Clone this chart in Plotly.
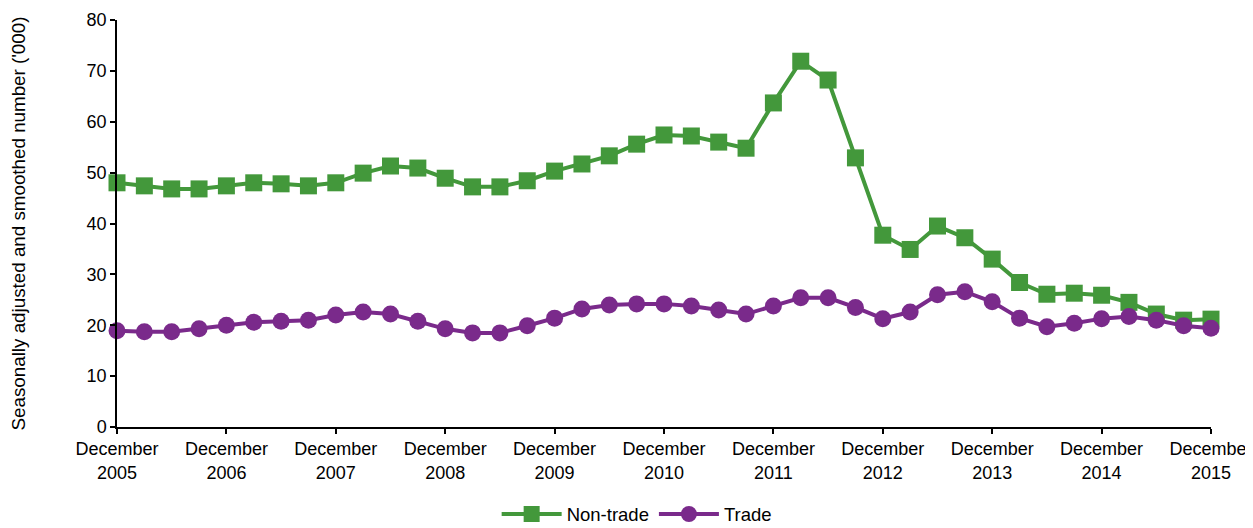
import plotly.graph_objects as go

quarters = list(range(41))
tick_positions = list(range(0, 41, 4))
tick_labels = [f"December<br>{y}" for y in range(2005, 2016)]

non_trade = [48.0, 47.4, 46.8, 46.8, 47.4, 48.0, 47.8, 47.4, 48.0, 49.9,
             51.3, 50.9, 48.9, 47.2, 47.2, 48.4, 50.3, 51.7, 53.3, 55.6,
             57.4, 57.2, 56.0, 54.8, 63.7, 71.9, 68.2, 52.9, 37.7, 34.9,
             39.5, 37.2, 33.0, 28.4, 26.1, 26.3, 25.9, 24.5, 22.2, 21.0, 21.2]

trade = [18.9, 18.7, 18.7, 19.3, 20.0, 20.6, 20.8, 21.0, 22.0, 22.6,
         22.2, 20.8, 19.3, 18.5, 18.5, 19.9, 21.4, 23.2, 24.0, 24.2,
         24.2, 23.8, 23.0, 22.2, 23.8, 25.4, 25.4, 23.5, 21.3, 22.6,
         26.0, 26.6, 24.6, 21.4, 19.7, 20.4, 21.3, 21.7, 21.0, 19.9, 19.4]

green = "#43983b"
purple = "#7a2a8b"

fig = go.Figure()
fig.add_trace(go.Scatter(x=quarters, y=non_trade, name="Non-trade", mode="lines+markers",
                         line=dict(color=green, width=4),
                         marker=dict(symbol="square", size=17, color=green),
                         cliponaxis=False))
fig.add_trace(go.Scatter(x=quarters, y=trade, name="Trade", mode="lines+markers",
                         line=dict(color=purple, width=4),
                         marker=dict(symbol="circle", size=17, color=purple),
                         cliponaxis=False))

font = dict(family="Liberation Sans, Arial, sans-serif", size=18, color="#000000")
fig.update_layout(
    width=1245, height=520,
    margin=dict(l=109, r=42, t=12, b=101, autoexpand=False),
    paper_bgcolor="white", plot_bgcolor="white",
    font=font,
    showlegend=True,
    legend=dict(orientation="h", x=0.475, xanchor="center", y=-0.215, yanchor="middle",
                font=dict(size=18.5), itemwidth=60, traceorder="normal"),
    xaxis=dict(range=[0, 40], tickmode="array", tickvals=tick_positions, ticktext=tick_labels,
               automargin=False,
               showgrid=False, zeroline=False, showline=True, linecolor="#000000", linewidth=1.5,
               ticks="outside", ticklen=5, tickcolor="#000000", tickwidth=1.5),
    yaxis=dict(range=[0, 80], dtick=10, showgrid=False, zeroline=False, automargin=False,
               showline=True, linecolor="#000000", linewidth=1.5,
               ticks="outside", ticklen=5, tickcolor="#000000", tickwidth=1.5,
               title=dict(text="Seasonally adjusted and smoothed number ('000)", standoff=66,
                          font=dict(size=18.8))),
)

fig.write_html("out.html")
